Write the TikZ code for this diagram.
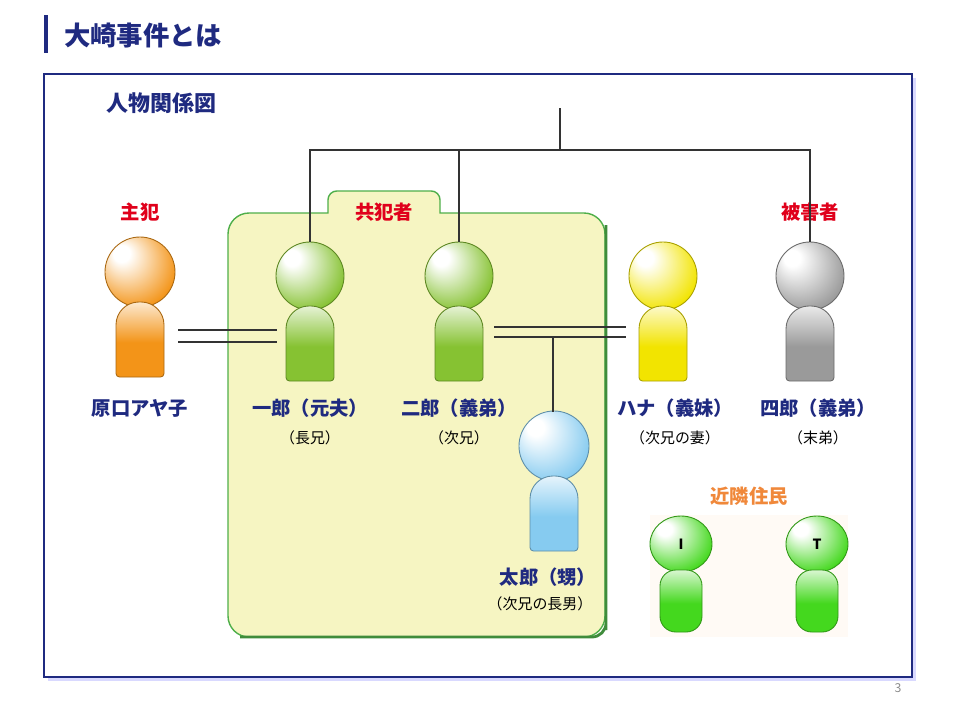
\documentclass[tikz,border=0pt]{standalone}
\usepackage{fontspec}
\setmainfont{Noto Sans CJK JP}
\usetikzlibrary{positioning,shadows}
\definecolor{navy}{HTML}{1F2A80}
\definecolor{redtxt}{HTML}{E0001B}
\definecolor{orangetxt}{HTML}{F0883A}
\definecolor{grpfill}{HTML}{F6F5C2}
\definecolor{grpline}{HTML}{4FAF4A}
\definecolor{cOrange}{HTML}{F39418}
\definecolor{cGreen}{HTML}{86C232}
\definecolor{cBlue}{HTML}{86CBF0}
\definecolor{cYellow}{HTML}{F2E400}
\definecolor{cGray}{HTML}{9A9A9A}
\definecolor{cLime}{HTML}{44D81E}
\colorlet{figcol}{cGreen}
\pgfdeclareradialshading[figcol]{headball}{\pgfpoint{-15bp}{15bp}}{color(0bp)=(white);color(6bp)=(white);color(32bp)=(figcol);color(50bp)=(figcol)}
\pgfdeclareverticalshading[figcol]{bodygrad}{100bp}{color(0bp)=(figcol);color(48bp)=(figcol);color(82bp)=(white);color(100bp)=(white)}
\tikzset{
  namelbl/.style={font=\bfseries\fontsize{11}{13}\selectfont, text=navy},
  sublbl/.style={font=\fontsize{8.5}{10}\selectfont},
  grouplbl/.style={font=\bfseries\fontsize{11}{13}\selectfont, text=redtxt},
  link/.style={draw=black!80, line width=0.6pt},
  headstyle/.style={shading=headball, draw=#1!70!black, line width=0.5pt},
  bodystyle/.style={shading=bodygrad, draw=#1!70!black, line width=0.5pt}
}
% head and body of one figure: x, y of head centre, radius, colour, name
\newcommand{\personfig}[5]{%
  \colorlet{figcol}{#4}
  \shade[headstyle=#4] (#1,#2) circle (#3);
  \node[circle, minimum size=1.36cm, inner sep=0pt] (#5) at (#1,#2) {};
  \shade[bodystyle=#4]
    (#1-24,#2+105) [rounded corners=13pt] -- (#1-24,#2+30) -- (#1+24,#2+30)
    [rounded corners=2pt] -- (#1+24,#2+105) -- cycle;
}
\begin{document}
\begin{tikzpicture}[x=0.02cm, y=-0.02cm]
\useasboundingbox (0,0) rectangle (960,720);
% title
\fill[navy] (44,15) rectangle (48,53);
\node[anchor=west, text=navy, font=\bfseries\fontsize{15}{18}\selectfont] (title) at (58,36) {大崎事件とは};
% frame
\fill[blue!15] (48,78) rectangle (916,681);
\draw[navy, line width=1.2pt, fill=white] (44,74) rectangle (912,677);
\node[anchor=west, text=navy, font=\bfseries\fontsize{12.5}{15}\selectfont] (heading) at (100,103) {人物関係図};
\node[text=black!45, font=\fontsize{7}{8}\selectfont] (page) at (898,688) {3};

% accomplice group
\draw[grpline, line width=0.8pt, fill=grpfill]
  (228,637) [rounded corners=12pt] -- (228,213) [sharp corners] -- (328,213)
  [rounded corners=5pt] -- (328,191) -- (440,191) [sharp corners] -- (440,213)
  [rounded corners=12pt] -- (605,213) -- (605,637) -- cycle;
\draw[grpline!80!black, line width=1.6pt] (606,225) -- (606,630) [rounded corners=8pt] -- (606,637) -- (240,637);
\node[grouplbl] (grp) at (384,212) {共犯者};

% neighbours panel
\fill[black!3!orange!4] (650,515) rectangle (848,637);
\node[font=\bfseries\fontsize{11}{13}\selectfont, text=orangetxt] (nbr) at (749,496) {近隣住民};

% figures
\personfig{140}{272}{35}{cOrange}{aya}
\personfig{310}{276}{34}{cGreen}{ichiro}
\personfig{459}{276}{34}{cGreen}{jiro}
\personfig{554}{446}{35}{cBlue}{taro}
\personfig{663}{276}{34}{cYellow}{hana}
\personfig{810}{276}{34}{cGray}{shiro}

\colorlet{figcol}{cLime}
\shade[headstyle=cLime] (681,544) ellipse (31 and 28);
\node[font=\bfseries\fontsize{8}{9}\selectfont] (nI) at (681,544) {I};
\shade[bodystyle=cLime, rounded corners=9pt]
  (660,632) -- (660,570) -- (702,570) -- (702,632) -- cycle;
\shade[headstyle=cLime] (817,544) ellipse (31 and 28);
\node[font=\bfseries\fontsize{8}{9}\selectfont] (nT) at (817,544) {T};
\shade[bodystyle=cLime, rounded corners=9pt]
  (796,632) -- (796,570) -- (838,570) -- (838,632) -- cycle;

% labels
\node[grouplbl] (main) at (140,212) {主犯};
\node[grouplbl] (victim) at (810,212) {被害者};
\node[namelbl] (l-aya) at (140,408) {原口アヤ子};
\node[namelbl] (l-ichiro) at (310,408) {一郎（元夫）};
\node[sublbl] (s-ichiro) at (310,438) {（長兄）};
\node[namelbl] (l-jiro) at (459,408) {二郎（義弟）};
\node[sublbl] (s-jiro) at (459,438) {（次兄）};
\node[namelbl] (l-hana) at (675,408) {ハナ（義妹）};
\node[sublbl] (s-hana) at (675,438) {（次兄の妻）};
\node[namelbl] (l-shiro) at (818,408) {四郎（義弟）};
\node[sublbl] (s-shiro) at (818,438) {（末弟）};
\node[namelbl] (l-taro) at (548,577) {太郎（甥）};
\node[sublbl] (s-taro) at (540,604) {（次兄の長男）};

% family tree
\coordinate (root) at (560,108);
\coordinate (rootj) at (560,150);
\draw[link] (root) -- (rootj);
\draw[link] (ichiro.north) -- (ichiro.north |- rootj) -- (shiro.north |- rootj) -- (shiro.north);
\draw[link] (jiro.north) -- (jiro.north |- rootj);
% marriages
\coordinate (a1) at (178,330); \coordinate (a2) at (277,330);
\draw[link] (a1) -- (a2);
\draw[link] ([yshift=-0.24cm]a1) -- ([yshift=-0.24cm]a2);
\coordinate (h1) at (494,327); \coordinate (h2) at (626,327);
\draw[link] (h1) -- (h2);
\draw[link] ([yshift=-0.2cm]h1) -- ([yshift=-0.2cm]h2);
\coordinate (t1) at (553,337);
\draw[link] (t1) -- (t1 |- taro.north);
\end{tikzpicture}
\end{document}
